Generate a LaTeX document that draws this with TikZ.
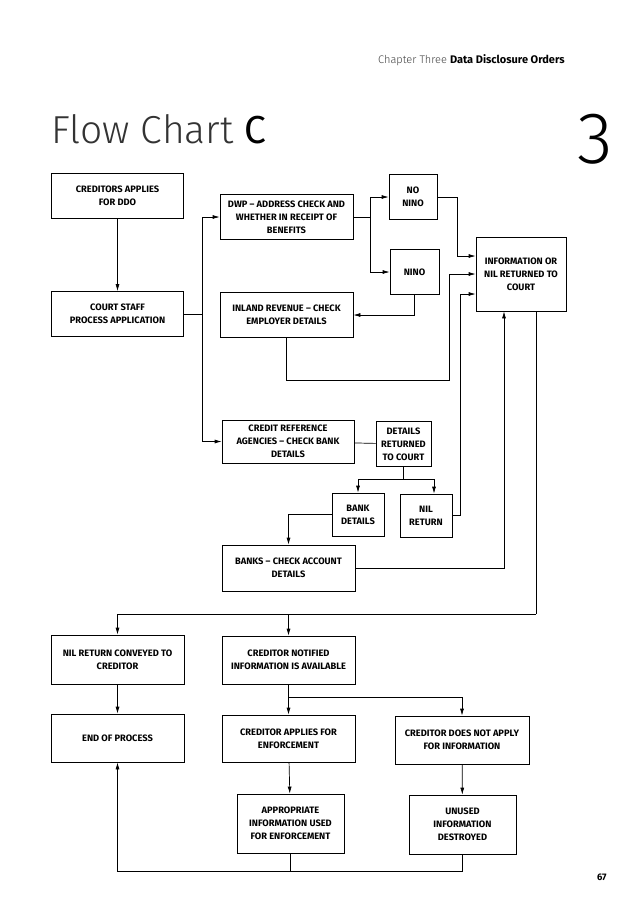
\documentclass[tikz,border=0pt]{standalone}
\usepackage{fontspec}
\setmainfont{Fira Sans}
\IfFontExistsTF{Fira Sans Light}
  {\newfontfamily\lightfont{Fira Sans Light}}
  {\IfFontExistsTF{Lato Light}
    {\newfontfamily\lightfont{Lato Light}}
    {\newfontfamily\lightfont{Fira Sans}[Color=666666]}}
\usepackage{tikz}
\usetikzlibrary{arrows.meta,positioning}

\begin{document}
\begin{tikzpicture}[
  x=1pt, y=-1pt,
  line width=0.7pt,
  box/.style={draw, minimum width=132pt, minimum height=45pt, inner sep=2pt,
              align=center, font=\fontsize{9.3}{12.8}\selectfont\bfseries},
  smallbox/.style={box, minimum width=50pt},
  flow/.style={-{Latex[length=7pt,width=4pt]}},
  link/.style={-}
]
  \fill[white] (0,0) rectangle (624,906);
  \useasboundingbox (0,0) rectangle (624,906);

  \node[anchor=base east, inner sep=0pt, font=\fontsize{11}{13}\selectfont] (chapter) at (565,63)
       {\lightfont\color{black!75}Chapter Three \normalfont\bfseries\color{black}Data Disclosure Orders};
  \node[anchor=base west, inner sep=0pt, font=\fontsize{39}{40}\selectfont] (title) at (51,143)
       {\lightfont\color{black!80}Flow Chart \normalfont\color{black}C};
  \node[anchor=base east, inner sep=0pt, font=\fontsize{73}{74}\selectfont] (chapnum) at (613,163)
       {\lightfont 3};
  \node[anchor=base east, inner sep=0pt, font=\fontsize{9.5}{10}\selectfont\bfseries] (page) at (607,880) {67};

  \node[box] (apply) at (117.5,196) {CREDITORS APPLIES\\FOR DDO};
  \node[box] (court) at (117.5,314) {COURT STAFF\\PROCESS APPLICATION};
  \node[box, minimum width=133pt] (dwp) at (286.5,217) {DWP -- ADDRESS CHECK AND\\WHETHER IN RECEIPT OF\\BENEFITS};
  \node[box, minimum width=133pt] (inland) at (286.5,315) {INLAND REVENUE -- CHECK\\EMPLOYER DETAILS};
  \node[smallbox, minimum width=48pt] (nonino) at (413,197) {NO\\NINO};
  \node[smallbox, minimum width=49pt] (nino) at (414.5,272) {NINO};
  \node[box, minimum width=90pt, minimum height=74pt] (info) at (521,274) {INFORMATION OR\\NIL RETURNED TO\\COURT};

  \node[box, minimum height=43pt] (credref) at (288,441.5) {CREDIT REFERENCE\\AGENCIES -- CHECK BANK\\DETAILS};
  \node[smallbox, minimum width=55pt] (details) at (403.5,444) {DETAILS\\RETURNED\\TO COURT};
  \node[smallbox, minimum width=52pt, minimum height=43pt] (bankdet) at (358,514.5) {BANK\\DETAILS};
  \node[smallbox, minimum width=52pt, minimum height=43pt] (nilret) at (426,515.5) {NIL\\RETURN};
  \node[box, minimum width=133pt, minimum height=46pt] (banks) at (288.5,568) {BANKS -- CHECK ACCOUNT\\DETAILS};

  \node[box, minimum width=133pt, minimum height=49pt] (nilconv) at (117.5,659.5) {NIL RETURN CONVEYED TO\\CREDITOR};
  \node[box, minimum width=133pt, minimum height=48pt] (notified) at (288.5,660) {CREDITOR NOTIFIED\\INFORMATION IS AVAILABLE};
  \node[box, minimum width=133pt, minimum height=48pt] (endproc) at (117.5,738) {END OF PROCESS};
  \node[box, minimum width=133pt, minimum height=47pt] (applies) at (288.5,738.5) {CREDITOR APPLIES FOR\\ENFORCEMENT};
  \node[box, minimum width=134pt, minimum height=48pt] (notapply) at (462,740) {CREDITOR DOES NOT APPLY\\FOR INFORMATION};
  \node[box, minimum width=107pt, minimum height=59pt] (approp) at (290.5,823.5) {APPROPRIATE\\INFORMATION USED\\FOR ENFORCEMENT};
  \node[box, minimum width=107pt, minimum height=59pt] (unused) at (462.5,824.5) {UNUSED\\INFORMATION\\DESTROYED};

  \draw[flow] (apply) -- (court);
  \draw[flow] (court.east) -- ++(18,0) |- (dwp.west);
  \draw[flow] (court.east) -- ++(18,0) |- (credref.west);
  \draw[flow] (dwp.east) -- ++(17,0) |- (nonino.west);
  \draw[flow] (dwp.east) -- ++(17,0) |- (nino.west);
  \draw[flow] (nonino.east) -- ++(20,0) |- ([yshift=18pt]info.west);
  \draw[flow] (nino.south) |- (inland.east);
  \draw[flow] (inland.south) -- ++(0,42) -- ++(163,0) |- (info.west);
  \draw[flow] (nilret.east) -- ++(8,0) |- ([yshift=-20pt]info.west);
  \draw[flow] (banks.east) -| ([xshift=-17pt]info.south);
  \draw[link] (credref) -- (details);
  \draw[flow] (details.south) -- ++(0,12) -| (bankdet.north);
  \draw[flow] (details.south) -- ++(0,12) -| ([xshift=8pt]nilret.north);
  \draw[flow] (bankdet.west) -| (banks.north);
  \draw[link] ([xshift=15pt]info.south) -- ++(0,303) coordinate (split);
  \draw[flow] (split) -| (nilconv.north);
  \draw[flow] (split) -| (notified.north);
  \draw[flow] (nilconv) -- (endproc);
  \draw[flow] (notified) -- (applies);
  \draw[flow] (notified.south) -- ++(0,13) -| (notapply.north);
  \draw[flow] (applies) -- (approp);
  \draw[flow] (notapply) -- (unused);
  \draw[link] (approp.south) -- ++(0,18);
  \draw[flow] (unused.south) -- ++(0,17) -| (endproc.south);
\end{tikzpicture}
\end{document}
